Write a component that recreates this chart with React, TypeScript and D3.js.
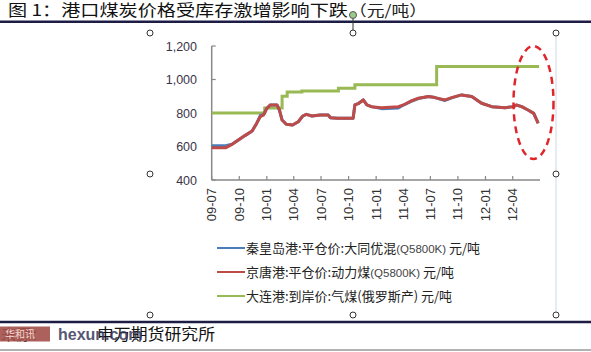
import React from "react";
import * as d3 from "d3";

// ---------- data ----------
const priceDates = [
  "2009-07-01","2009-08-16","2009-09-07","2009-09-28","2009-10-20","2009-11-13","2009-11-28",
  "2009-12-10","2009-12-21","2010-01-01","2010-01-13","2010-02-04","2010-02-12","2010-02-21",
  "2010-03-07","2010-03-28","2010-04-16","2010-05-01","2010-05-13","2010-06-01","2010-06-28",
  "2010-07-25","2010-08-01","2010-08-25","2010-10-16","2010-10-22","2010-11-04","2010-11-19",
  "2010-12-01","2010-12-16","2011-01-19","2011-03-16","2011-04-07","2011-04-28","2011-05-22",
  "2011-06-25","2011-07-16","2011-08-19","2011-09-10","2011-10-13","2011-11-16","2011-12-19",
  "2012-01-22","2012-03-07","2012-04-04","2012-04-13","2012-05-01","2012-05-22","2012-06-10",
  "2012-06-25"
];
// 秦皇岛港 (blue)
const qhdValues = [
  605,605,613,639,665,692,738,
  785,790,828,848,848,818,758,
  733,728,748,782,792,782,788,
  788,772,768,768,848,858,878,
  848,838,826,830,852,870,886,
  898,892,875,890,908,898,858,
  838,832,838,848,838,818,798,
  740
];
// 京唐港 (red)
const jtValues = [
  592,592,613,639,665,692,738,
  778,788,828,848,848,818,758,
  733,728,748,782,792,782,788,
  788,772,768,768,848,858,878,
  848,838,832,838,852,872,888,
  898,892,878,892,908,898,858,
  838,832,838,848,838,818,798,
  738
];
// 大连港 (green), step series
const dlDates = [
  "2009-07-01","2009-12-25","2010-02-21","2010-03-10","2010-04-28",
  "2010-08-28","2010-10-22","2011-07-22","2012-06-28"
];
const dlValues = [800,830,900,925,932,948,968,1078,1078];

const yTicks = [400,600,800,1000,1200];
const xTickLabels = ["09-07","09-10","10-01","10-04","10-07","10-10","11-01","11-04","11-07","11-10","12-01","12-04"];

const seriesNames = [
  { main: "秦皇岛港:平仓价:大同优混", code: "(Q5800K)", unit: " 元/吨" },
  { main: "京唐港:平仓价:动力煤", code: "(Q5800K)", unit: " 元/吨" },
  { main: "大连港:到岸价:气煤", code: "(俄罗斯产)", unit: " 元/吨" },
];
const colors = ["#4a7ebb", "#be4b48", "#98b954"];

// ---------- layout ----------
const W = 591, H = 352;
const left = 211.7, right = 540, top = 46, bottom = 180;

const parse = d3.timeParse("%Y-%m-%d");
const x = d3.scaleTime()
  .domain([parse("2009-07-01")!, parse("2012-07-01")!])
  .range([left, right]);
const y = d3.scaleLinear().domain([400, 1200]).range([bottom, top]);

const line = d3.line<[Date, number]>().x(d => x(d[0])).y(d => y(d[1]));
const stepLine = d3.line<[Date, number]>().x(d => x(d[0])).y(d => y(d[1])).curve(d3.curveStepAfter);

const blueData: [Date, number][] = priceDates.map((d, i) => [parse(d)!, qhdValues[i]]);
const redData: [Date, number][] = priceDates.map((d, i) => [parse(d)!, jtValues[i]]);
const greenData: [Date, number][] = dlDates.map((d, i) => [parse(d)!, dlValues[i]]);

const tickDates = xTickLabels.map(l => parse(`20${l}-01`)!);

const handles: [number, number][] = [
  [150, 33], [353, 33], [556, 33],
  [150, 174], [556, 174],
  [150, 315], [353, 315], [556, 315],
];

const cjk = "'Noto Sans CJK SC', 'Noto Sans', sans-serif";
const latin = "'Liberation Sans', Arial, sans-serif";

export default function App() {
  return (
    <svg width={W} height={H} style={{ position: "absolute", left: 0, top: 0, background: "#fff" }}>
      <rect x={0} y={0} width={W} height={H} fill="#fff" />
      {/* title */}
      <text x={8} y={16} fontFamily={cjk} fontSize={16} fill="#111" textLength={340} lengthAdjust="spacingAndGlyphs">
        图 1：港口煤炭价格受库存激增影响下跌
      </text>
      <text x={349} y={16} fontFamily={cjk} fontSize={15} fill="#222" textLength={78} lengthAdjust="spacingAndGlyphs">
        （元/吨）
      </text>
      <line x1={0} x2={W} y1={21.8} y2={21.8} stroke="#1c1c44" strokeWidth={2.5} />

      {/* selection frame bits */}
      <line x1={556} x2={556} y1={33} y2={315} stroke="#cdd5e3" strokeWidth={1} />
      <line x1={353} x2={353} y1={18} y2={30} stroke="#333" strokeWidth={1} />
      <circle cx={353} cy={15} r={3.5} fill="#9acb8c" stroke="#555" strokeWidth={1} />
      {handles.map(([cx, cy], i) => (
        <circle key={i} cx={cx} cy={cy} r={3} fill="#fff" stroke="#333" strokeWidth={1} />
      ))}

      {/* y axis */}
      <line x1={left} x2={left} y1={top} y2={bottom} stroke="#888" strokeWidth={1.5} />
      {yTicks.map(t => (
        <g key={t}>
          <line x1={left} x2={left + 4} y1={y(t)} y2={y(t)} stroke="#888" strokeWidth={1.2} />
          <text x={197} y={y(t) + 4.5} textAnchor="end" fontFamily={latin} fontSize={12.5} fill="#3a3448">
            {d3.format(",")(t)}
          </text>
        </g>
      ))}

      {/* x axis */}
      <line x1={left} x2={right} y1={bottom} y2={bottom} stroke="#888" strokeWidth={1.5} />
      {tickDates.map((d, i) => (
        <g key={i}>
          <line x1={x(d)} x2={x(d)} y1={bottom} y2={bottom - 4} stroke="#888" strokeWidth={1.2} />
          <text
            transform={`translate(${x(d) + 4.5},${bottom + 8}) rotate(-90)`}
            textAnchor="end"
            fontFamily={latin}
            fontSize={13}
            fill="#333"
          >
            {xTickLabels[i]}
          </text>
        </g>
      ))}

      {/* series */}
      <path d={stepLine(greenData)!} fill="none" stroke={colors[2]} strokeWidth={3} />
      <path d={line(blueData)!} fill="none" stroke={colors[0]} strokeWidth={3} strokeLinejoin="round" />
      <path d={line(redData)!} fill="none" stroke={colors[1]} strokeWidth={3} strokeLinejoin="round" />

      {/* dashed highlight ellipse */}
      <ellipse cx={533.5} cy={102.5} rx={20} ry={56.5} fill="none" stroke="#e0242a" strokeWidth={2.5} strokeDasharray="7,5" />

      {/* legend */}
      {seriesNames.map((s, i) => {
        const ly = 248 + i * 24;
        return (
          <g key={i}>
            <line x1={217} x2={245} y1={ly} y2={ly} stroke={colors[i]} strokeWidth={2} />
            <text x={246} y={ly + 4.5} fontFamily={cjk} fontSize={13} fill="#222">
              {s.main}
              <tspan fontFamily={i === 2 ? cjk : latin} fontSize={i === 2 ? 13 : 11.5} fill={i === 2 ? "#222" : "#444"}>{s.code}</tspan>
              {s.unit}
            </text>
          </g>
        );
      })}

      {/* footer */}
      <line x1={0} x2={W} y1={322} y2={322} stroke="#1c1c44" strokeWidth={2.5} />
      <text x={1} y={340} fontFamily={cjk} fontSize={15} fill="#222">来源：</text>
      <rect x={0} y={326.5} width={50} height={15} fill="#a4504a" opacity={0.9} />
      <text x={5} y={338} fontFamily={cjk} fontSize={10} fill="#f3d8d0">华和讯</text>
      <text x={97} y={340} fontFamily={cjk} fontSize={15.5} fill="#111" textLength={118} lengthAdjust="spacingAndGlyphs">申万期货研究所</text>
      <text x={58} y={340} fontFamily={latin} fontSize={16} fontWeight="bold" fill="#3a3a5c" opacity={0.85}>hexun.com</text>
      <line x1={0} x2={W} y1={350} y2={350} stroke="#999" strokeWidth={1.5} />
    </svg>
  );
}
